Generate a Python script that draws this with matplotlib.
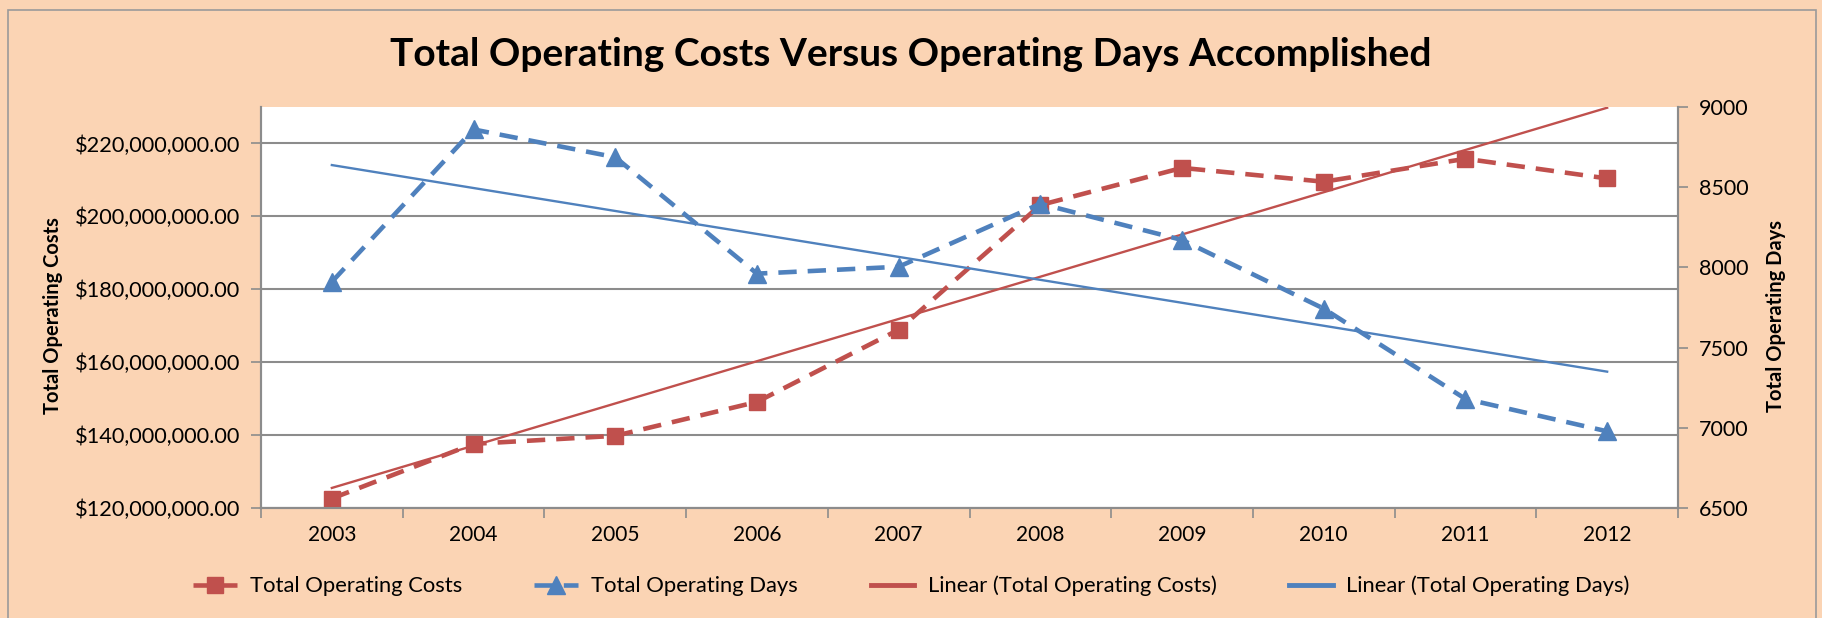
import matplotlib.pyplot as plt
from matplotlib.lines import Line2D
from matplotlib.patches import Rectangle
from matplotlib.ticker import FuncFormatter

plt.rcParams['font.family'] = ['Lato', 'DejaVu Sans']

years = ['2003', '2004', '2005', '2006', '2007', '2008', '2009', '2010', '2011', '2012']
costs = [122.6e6, 137.6e6, 139.8e6, 149.1e6, 168.9e6, 203.1e6, 213.3e6, 209.5e6, 215.8e6, 210.4e6]
days = [7910, 8860, 8687, 7961, 8004, 8397, 8171, 7743, 7180, 6978]
# trendline end values (2003 and 2012)
trend_costs = [125.5e6, 229.8e6]
trend_days = [8638, 7350]

red = '#C0504D'
blue = '#4F81BD'
bg = '#FBD4B4'
grid_col = '#8C8C8C'
dash = (0, (4.0, 2.4))

fig = plt.figure(figsize=(18.22, 6.18), dpi=100)
fig.patch.set_facecolor(bg)
# thin border round the chart
fig.add_artist(Rectangle((8/1822, -0.01), 1808/1822, 1 - 10/618 + 0.01, transform=fig.transFigure,
                         fill=False, edgecolor='#9A9A9A', linewidth=1.2))

ax = fig.add_axes([261/1822, 1 - 508/618, 1417/1822, 401/618])
ax2 = ax.twinx()

x = list(range(len(years)))
ends = [x[0], x[-1]]

ax.plot(x, costs, color=red, linewidth=3.3, linestyle=dash, marker='s', markersize=11.5, zorder=3)
ax.plot(ends, trend_costs, color=red, linewidth=1.7, zorder=4)
ax2.plot(x, days, color=blue, linewidth=3.3, linestyle=dash, marker='^', markersize=12.5, zorder=3)
ax2.plot(ends, trend_days, color=blue, linewidth=1.7, zorder=4)

ax.set_xlim(-0.5, len(years) - 0.5)
ax.set_ylim(120e6, 230e6)
ax2.set_ylim(6500, 9000)

ax.set_yticks([120e6, 140e6, 160e6, 180e6, 200e6, 220e6])
ax.yaxis.set_major_formatter(FuncFormatter(lambda v, p: '${:,.2f}'.format(v)))
ax2.set_yticks([6500, 7000, 7500, 8000, 8500, 9000])

ax.set_xticks(x)
ax.set_xticklabels(years)
ax.set_xticks([i - 0.5 for i in range(len(years) + 1)], minor=True)
ax.tick_params(axis='x', which='major', length=0, pad=12, labelsize=15)
ax.tick_params(axis='x', which='minor', length=7, width=1.2, color=grid_col)
ax.tick_params(axis='y', length=7, width=1.2, color=grid_col, labelsize=15.7, pad=8)
ax2.tick_params(axis='y', length=7, width=1.2, color=grid_col, labelsize=15.5, pad=8)

ax.grid(True, axis='y', color=grid_col, linewidth=1.5)
ax.set_axisbelow(True)
for a in (ax, ax2):
    a.spines['top'].set_visible(False)
    for side in ['left', 'right', 'bottom']:
        a.spines[side].set_color(grid_col)
        a.spines[side].set_linewidth(1.5)

ax.set_ylabel('Total Operating Costs', fontsize=14.5, fontweight='bold')
ax.yaxis.set_label_coords(-0.140, 0.48)
ax2.set_ylabel('Total Operating Days', fontsize=14.5, fontweight='bold')
ax2.yaxis.set_label_coords(1.062, 0.48)

fig.text(0.5, 1 - 54/618, 'Total Operating Costs Versus Operating Days Accomplished',
         ha='center', va='center', fontsize=28, fontweight='bold')

handles = [
    Line2D([], [], color=red, linewidth=3.3, linestyle=dash, marker='s', markersize=11.5),
    Line2D([], [], color=blue, linewidth=3.3, linestyle=dash, marker='^', markersize=12.5),
    Line2D([], [], color=red, linewidth=3.5),
    Line2D([], [], color=blue, linewidth=3.5),
]
labels = ['Total Operating Costs', 'Total Operating Days',
          'Linear (Total Operating Costs)', 'Linear (Total Operating Days)']
fig.legend(handles, labels, loc='center', bbox_to_anchor=(0.5, 1 - 586/618), ncol=4,
           frameon=False, fontsize=15.8, handlelength=2.0, handletextpad=0.6, columnspacing=3.3)

plt.savefig('out.png', dpi=100, facecolor=fig.get_facecolor())
